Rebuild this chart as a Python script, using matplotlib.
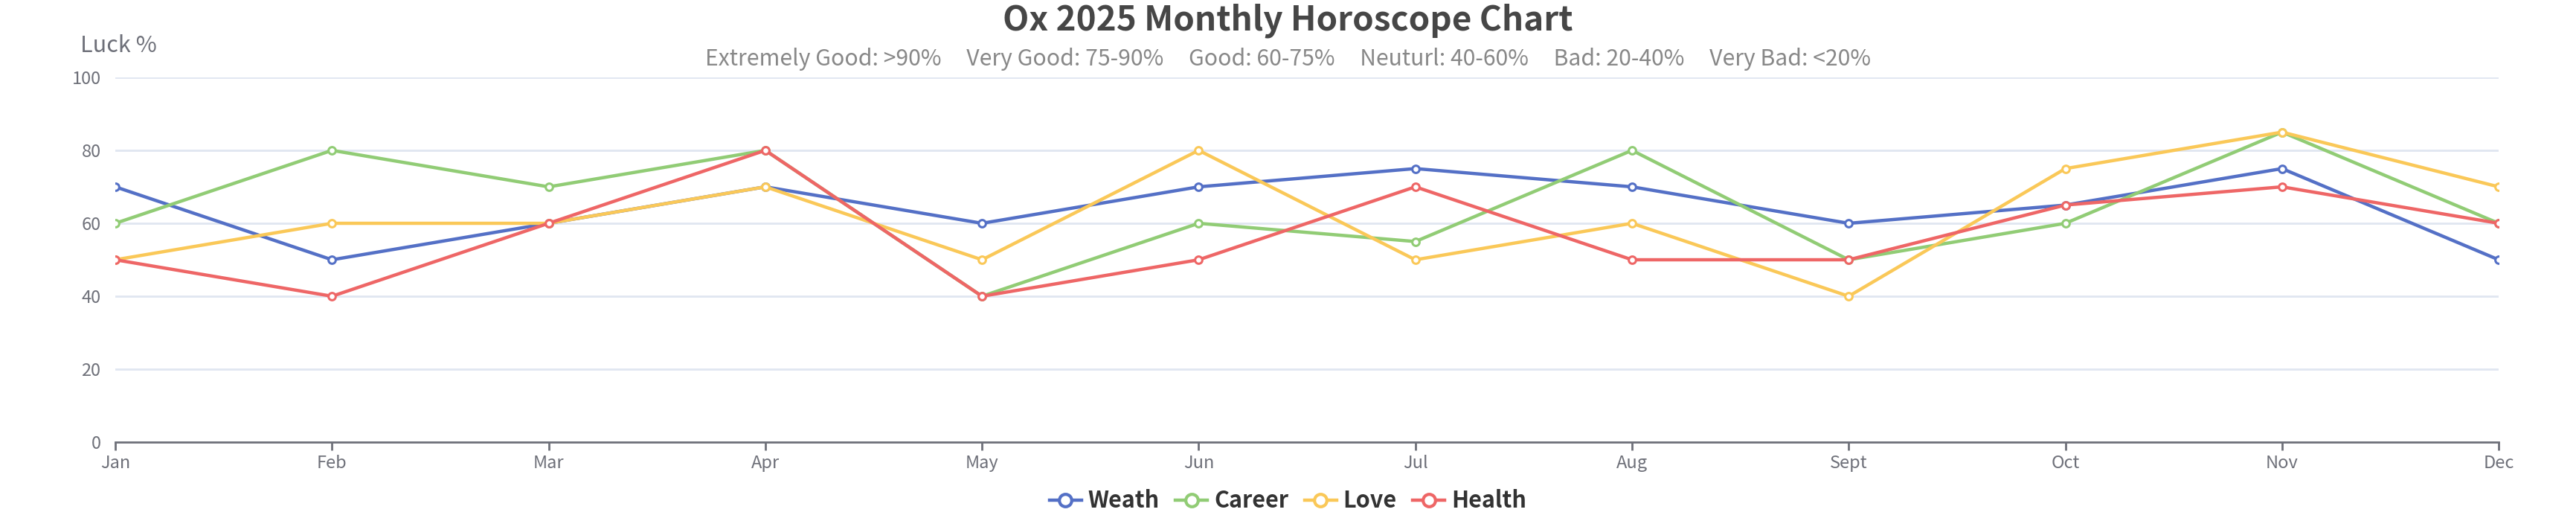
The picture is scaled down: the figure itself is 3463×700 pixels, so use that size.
import matplotlib
matplotlib.use("Agg")
import matplotlib.pyplot as plt
from matplotlib.lines import Line2D

# data
months = ["Jan", "Feb", "Mar", "Apr", "May", "Jun", "Jul", "Aug", "Sept", "Oct", "Nov", "Dec"]
weath = [70, 50, 60, 70, 60, 70, 75, 70, 60, 65, 75, 50]
career = [60, 80, 70, 80, 40, 60, 55, 80, 50, 60, 85, 60]
love = [50, 60, 60, 70, 50, 80, 50, 60, 40, 75, 85, 70]
health = [50, 40, 60, 80, 40, 50, 70, 50, 50, 65, 70, 60]
series_names = ["Weath", "Career", "Love", "Health"]
y_ticks = [0, 20, 40, 60, 80, 100]

colors = ["#5470c6", "#91cc75", "#fac858", "#ee6666"]

plt.rcParams['font.family'] = ['Noto Sans CJK SC', 'DejaVu Sans']

fig = plt.figure(figsize=(34.63, 7), dpi=100)
ax = fig.add_axes([0.04476, 0.1514, 0.97 - 0.04476, 0.7])

x = list(range(len(months)))
for vals, c, name in zip([weath, career, love, health], colors, series_names):
    ax.plot(x, vals, color=c, lw=3.2, marker="o", ms=7, mfc="white",
            mec=c, mew=2.2, label=name, zorder=3)

ax.set_xlim(0, len(months) - 1)
ax.set_ylim(0, 100)
ax.set_yticks(y_ticks)
ax.set_xticks(x)
ax.set_xticklabels(months)
ax.grid(axis="y", color="#e0e6f1", lw=2)
ax.set_axisbelow(True)
for s in ["top", "right", "left"]:
    ax.spines[s].set_visible(False)
ax.spines["bottom"].set_color("#6e7079")
ax.spines["bottom"].set_linewidth(2)
ax.tick_params(axis="y", length=0, pad=14, labelsize=17, labelcolor="#6e7079")
ax.tick_params(axis="x", length=8, width=2, color="#6e7079", pad=4,
               labelsize=17, labelcolor="#6e7079")

fig.text(0.5, 0.96, "Ox 2025 Monthly Horoscope Chart", ha="center", va="center",
         fontsize=33, fontweight="bold", color="#464646")
fig.text(0.5, 0.886,
         "Extremely Good: >90%     Very Good: 75-90%     Good: 60-75%     Neuturl: 40-60%     Bad: 20-40%     Very Bad: <20%",
         ha="center", va="center", fontsize=21.7, color="#888888")
fig.text(0.0312, 0.912, "Luck %", ha="left", va="center", fontsize=22, color="#6e7079")

handles = [Line2D([0], [0], color=c, lw=3.2, marker="o", ms=12, mfc="white", mec=c, mew=3)
           for c in colors]
leg = fig.legend(handles, series_names, loc="center", bbox_to_anchor=(0.5, 0.038), ncol=4,
                 frameon=False, handlelength=1.4, handletextpad=0.3, columnspacing=0.7,
                 prop={"size": 22, "weight": "bold"})
for t in leg.get_texts():
    t.set_color("#333333")

fig.savefig("out.png", dpi=100, facecolor="white")
